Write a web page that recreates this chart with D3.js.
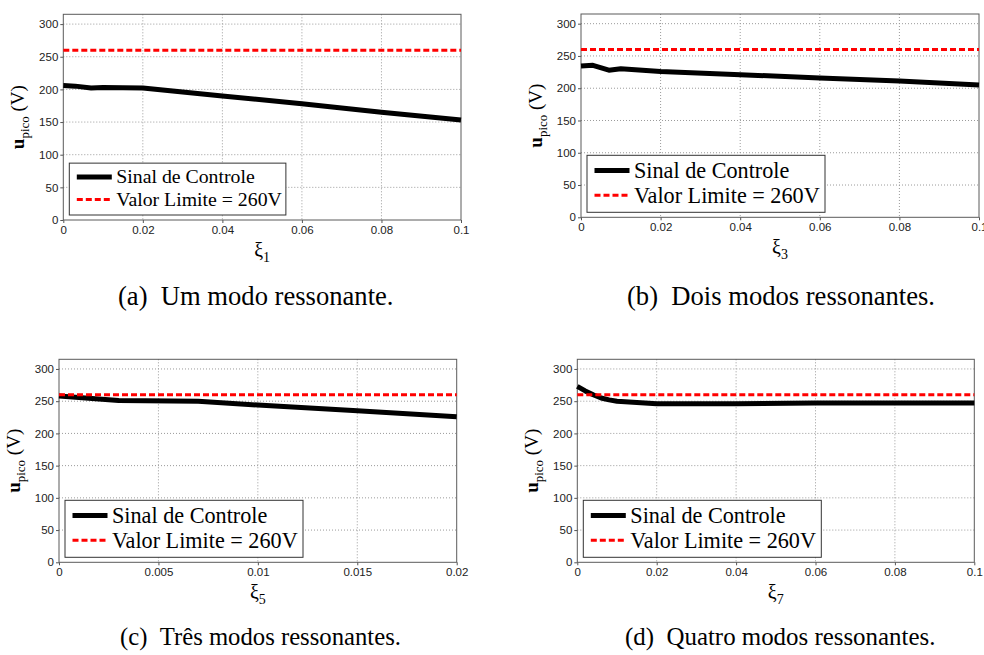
<!DOCTYPE html>
<html>
<head>
<meta charset="utf-8">
<script src="https://cdn.jsdelivr.net/npm/d3@7"></script>
<style>
	body { margin: 0; background: #fff; }
	svg { display: block; }
</style>
</head>
<body>
<div id="chart"></div>
<script>
var xiA = [0, 0.003, 0.007, 0.01, 0.015, 0.02, 0.04, 0.06, 0.08, 0.1];
var uA = [206, 205, 202, 203, 202.5, 202, 190, 178, 165, 153];

var xiB = [0, 0.003, 0.007, 0.01, 0.02, 0.04, 0.06, 0.08, 0.1];
var uB = [234.5, 235.5, 228, 230, 226, 221, 216, 211, 205];

var xiC = [0, 0.003, 0.007, 0.01, 0.015, 0.02];
var uC = [258, 251, 250, 244, 235, 226];

var xiD = [0, 0.002, 0.004, 0.006, 0.008, 0.01, 0.015, 0.02, 0.04, 0.06, 0.08, 0.1];
var uD = [273, 266, 260, 255, 252, 250, 248, 246, 246, 247, 247, 247];

var limitValue = 260;
var yTicks = [0, 50, 100, 150, 200, 250, 300];
var xTicksWide = [0, 0.02, 0.04, 0.06, 0.08, 0.1];
var xTickLabelsWide = ['0', '0.02', '0.04', '0.06', '0.08', '0.1'];
var xTicksNarrow = [0, 0.005, 0.01, 0.015, 0.02];
var xTickLabelsNarrow = ['0', '0.005', '0.01', '0.015', '0.02'];
var subscripts = ['1', '3', '5', '7'];
var captions = ['(a)\u2002Um modo ressonante.', '(b)\u2002Dois modos ressonantes.',
	'(c)\u2002Três modos ressonantes.', '(d)\u2002Quatro modos ressonantes.'];
var legendLabels = ['Sinal de Controle', 'Valor Limite = 260V'];

var SERIF = '"Liberation Serif", "Times New Roman", Times, "DejaVu Serif", serif';
var SANS = '"Liberation Sans", Arial, Helvetica, sans-serif';

var fullWidth = 984;
var fullHeight = 655;

var svg = d3.select('#chart')
	.append('svg')
	.attr('width', fullWidth)
	.attr('height', fullHeight)
	.attr('viewBox', '0 0 ' + fullWidth + ' ' + fullHeight);

// plot boxes in page pixels: left, right, top, bottom; caption start x / baseline
var boxes = [
	{ l: 63.3, r: 461, t: 14.3, b: 220, legendFont: 19.8, legendScale: 0.91, capX: 118, capY: 305, capFont: 26.6 },
	{ l: 581, r: 979, t: 14, b: 217.3, legendFont: 22.2, legendScale: 1, capX: 627, capY: 305, capFont: 26.6 },
	{ l: 59, r: 456.7, t: 359.3, b: 562.3, legendFont: 22.2, legendScale: 1, capX: 120, capY: 645, capFont: 24.7 },
	{ l: 577.3, r: 974.3, t: 359.3, b: 562.3, legendFont: 22.2, legendScale: 1, capX: 625, capY: 645, capFont: 24.9 }
];

var seriesX = [xiA, xiB, xiC, xiD];
var seriesY = [uA, uB, uC, uD];
var ticksX = [xTicksWide, xTicksWide, xTicksNarrow, xTicksWide];
var ticksXLabels = [xTickLabelsWide, xTickLabelsWide, xTickLabelsNarrow, xTickLabelsWide];

boxes.forEach(function(box, i) {
	var xs = seriesX[i];
	var ys = seriesY[i];
	var xt = ticksX[i];

	var x = d3.scaleLinear()
		.domain([xt[0], xt[xt.length - 1]])
		.range([box.l, box.r]);
	var y = d3.scaleLinear()
		.domain([0, 315])
		.range([box.b, box.t]);

	var g = svg.append('g');

	// grid
	g.append('g').selectAll('line')
		.data(xt.slice(1, -1))
		.enter().append('line')
		.attr('x1', function(d) { return x(d); })
		.attr('x2', function(d) { return x(d); })
		.attr('y1', box.t)
		.attr('y2', box.b)
		.attr('stroke', '#9a9a9a')
		.attr('stroke-width', 1)
		.attr('stroke-dasharray', '1,2');

	g.append('g').selectAll('line')
		.data(yTicks.slice(1))
		.enter().append('line')
		.attr('x1', box.l)
		.attr('x2', box.r)
		.attr('y1', function(d) { return y(d); })
		.attr('y2', function(d) { return y(d); })
		.attr('stroke', '#9a9a9a')
		.attr('stroke-width', 1)
		.attr('stroke-dasharray', '1,2');

	// axes
	var labels = ticksXLabels[i];
	var xAxis = d3.axisBottom(x)
		.tickValues(xt)
		.tickSize(3)
		.tickPadding(3)
		.tickFormat(function(d, k) { return labels[k]; });
	var yAxis = d3.axisLeft(y)
		.tickValues(yTicks)
		.tickSize(3)
		.tickPadding(2)
		.tickFormat(d3.format('d'));

	var gx = g.append('g')
		.attr('transform', 'translate(0,' + box.b + ')')
		.call(xAxis);
	var gy = g.append('g')
		.attr('transform', 'translate(' + box.l + ',0)')
		.call(yAxis);
	[gx, gy].forEach(function(a) {
		a.attr('font-family', SANS).attr('font-size', 11.5);
		a.select('.domain').remove();
		a.selectAll('.tick line').attr('stroke', '#555');
		a.selectAll('.tick text').attr('fill', '#222');
	});

	// frame
	g.append('rect')
		.attr('x', box.l)
		.attr('y', box.t)
		.attr('width', box.r - box.l)
		.attr('height', box.b - box.t)
		.attr('fill', 'none')
		.attr('stroke', '#5a5a5a')
		.attr('stroke-width', 1);

	// control signal
	var line = d3.line()
		.x(function(d, k) { return x(xs[k]); })
		.y(function(d) { return y(d); });

	g.append('path')
		.datum(ys)
		.attr('d', line)
		.attr('fill', 'none')
		.attr('stroke', '#000')
		.attr('stroke-width', 5)
		.attr('stroke-linejoin', 'round');

	// limit line
	g.append('line')
		.attr('x1', x(xt[0]))
		.attr('x2', x(xt[xt.length - 1]))
		.attr('y1', y(limitValue))
		.attr('y2', y(limitValue))
		.attr('stroke', '#ff0000')
		.attr('stroke-width', 3)
		.attr('stroke-dasharray', '6,3');

	// legend
	var s = box.legendScale;
	var lw = 238 * s, lh = 57 * s;
	var lx = box.l + 6, ly = box.b - 5 - lh;
	var leg = g.append('g');
	leg.append('rect')
		.attr('x', lx)
		.attr('y', ly)
		.attr('width', lw)
		.attr('height', lh)
		.attr('fill', '#fff')
		.attr('stroke', '#333')
		.attr('stroke-width', 1);
	var rows = [ly + 15.2 * s, ly + 40 * s];
	leg.append('line')
		.attr('x1', lx + 7.5).attr('x2', lx + 42.5)
		.attr('y1', rows[0]).attr('y2', rows[0])
		.attr('stroke', '#000').attr('stroke-width', 5);
	leg.append('line')
		.attr('x1', lx + 7.5).attr('x2', lx + 42.5)
		.attr('y1', rows[1]).attr('y2', rows[1])
		.attr('stroke', '#ff0000').attr('stroke-width', 3)
		.attr('stroke-dasharray', '6,3');
	leg.selectAll('text')
		.data(legendLabels)
		.enter().append('text')
		.attr('x', lx + 47)
		.attr('y', function(d, k) { return rows[k] + box.legendFont * 0.33; })
		.attr('font-family', SERIF)
		.attr('font-size', box.legendFont)
		.attr('fill', '#000')
		.text(function(d) { return d; });

	// y label
	var cy = (box.t + box.b) / 2;
	var yl = g.append('text')
		.attr('transform', 'translate(' + (box.l - 39) + ',' + cy + ') rotate(-90)')
		.attr('text-anchor', 'middle')
		.attr('font-family', SERIF)
		.attr('font-size', 19)
		.attr('fill', '#000');
	yl.append('tspan').attr('font-weight', 'bold').text('u');
	yl.append('tspan').attr('dy', 5).attr('font-size', 13).text('pico');
	yl.append('tspan').attr('dy', -5).text(' (V)');

	// x label
	var xl = g.append('text')
		.attr('x', (box.l + box.r) / 2)
		.attr('y', box.b + 37)
		.attr('text-anchor', 'middle')
		.attr('font-family', SERIF)
		.attr('font-size', 20)
		.attr('fill', '#000');
	xl.append('tspan').text('\u03be');
	xl.append('tspan').attr('dy', 5).attr('font-size', 14).text(subscripts[i]);

	// caption
	svg.append('text')
		.attr('x', box.capX)
		.attr('y', box.capY)
		.attr('font-family', SERIF)
		.attr('font-size', box.capFont)
		.attr('fill', '#000')
		.text(captions[i]);
});
</script>
</body>
</html>
